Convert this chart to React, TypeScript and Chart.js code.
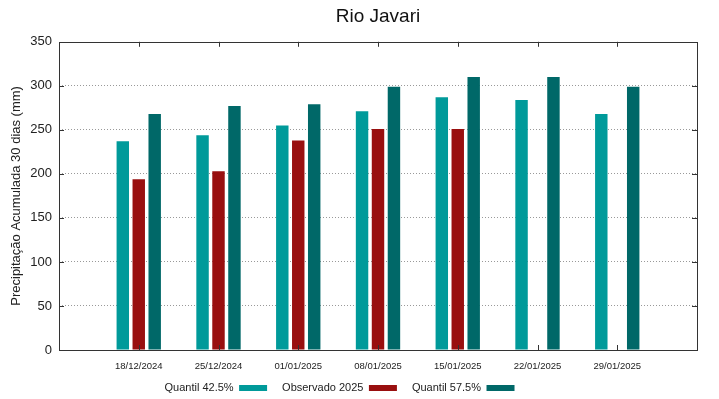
import React, { useEffect, useRef } from "react";
import { Chart, registerables } from "chart.js";

Chart.register(...registerables);

const dates = ["18/12/2024", "25/12/2024", "01/01/2025", "08/01/2025", "15/01/2025", "22/01/2025", "29/01/2025"];
const quantil425 = [237, 244, 255, 271, 287, 284, 268];
const observado2025 = [194, 203, 238, 251, 251, null, null];
const quantil575 = [268, 277, 279, 299, 310, 310, 299];
const yTicks = [0, 50, 100, 150, 200, 250, 300, 350];

const framePlugin = {
  id: "frame",
  afterLayout(chart: any) {
    if (chart.legend) {
      chart.legend.left -= 9;
      chart.legend.right -= 9;
    }
    if (chart.scales.x) chart.scales.x.bottom += 12;
  },
  afterDraw(chart: any) {
    const { ctx, chartArea } = chart;
    const xs = chart.scales.x;
    const ys = chart.scales.y;
    ctx.save();
    ctx.strokeStyle = "#333333";
    ctx.lineWidth = 1;
    ctx.strokeRect(Math.round(chartArea.left) + 0.5, Math.round(chartArea.top) + 0.5,
      Math.round(chartArea.right - chartArea.left), Math.round(chartArea.bottom - chartArea.top));
    ctx.beginPath();
    for (let i = 1; i <= dates.length; i++) {
      const x = Math.round(xs.getPixelForValue(i)) + 0.5;
      ctx.moveTo(x, chartArea.top);
      ctx.lineTo(x, chartArea.top + 5);
      ctx.moveTo(x, chartArea.bottom);
      ctx.lineTo(x, chartArea.bottom - 5);
    }
    for (const v of yTicks) {
      const y = Math.round(ys.getPixelForValue(v)) + 0.5;
      ctx.moveTo(chartArea.left, y);
      ctx.lineTo(chartArea.left + 5, y);
      ctx.moveTo(chartArea.right, y);
      ctx.lineTo(chartArea.right - 5, y);
    }
    ctx.stroke();
    ctx.restore();
  },
};

export default function App() {
  const ref = useRef<HTMLCanvasElement>(null);
  useEffect(() => {
    document.body.style.margin = "0";
    const labels = ["", ...dates, ""];
    const pad = (a: (number | null)[]) => [null, ...a, null];
    const chart = new Chart(ref.current!, {
      type: "bar",
      data: {
        labels,
        datasets: [
          { label: "Quantil 42.5%", data: pad(quantil425), backgroundColor: "#009a9a" },
          { label: "Observado 2025", data: pad(observado2025), backgroundColor: "#990f0f" },
          { label: "Quantil 57.5%", data: pad(quantil575), backgroundColor: "#006868" },
        ],
      },
      plugins: [framePlugin],
      options: {
        animation: false,
        responsive: false,
        layout: { padding: { left: 0, right: 22, top: 0, bottom: -4.5 } },
        datasets: { bar: { categoryPercentage: 0.6, barPercentage: 0.78 } },
        scales: {
          x: {
            offset: false,
            grid: { display: false, drawTicks: false },
            border: { display: false },
            ticks: {
              autoSkip: false,
              maxRotation: 0,
              padding: 11,
              color: "#222",
              font: { family: "Liberation Sans", size: 9.5 },
            },
            afterFit: (s: any) => { s.height = 17.5; },
          },
          y: {
            min: 0,
            max: 350,
            grid: {
              drawTicks: false,
              color: (c: any) => (c.tick.value === 0 || c.tick.value === 350 ? "rgba(0,0,0,0)" : "#999"),
              lineWidth: 1,
            },
            border: { display: false, dash: [1, 2] },
            ticks: {
              stepSize: 50,
              padding: 7,
              color: "#222",
              font: { family: "Liberation Sans", size: 13 },
            },
            title: {
              display: true,
              text: "Precipitação Acumulada 30 dias (mm)",
              color: "#222",
              font: { family: "Liberation Sans", size: 13 },
              padding: { top: 9, bottom: 2 },
            },
            afterFit: (s: any) => { s.width = 59; },
          },
        },
        plugins: {
          title: {
            display: true,
            text: "Rio Javari",
            fullSize: false,
            color: "#111",
            font: { family: "Liberation Sans", size: 19, weight: "normal" },
            padding: { top: 5, bottom: 14 },
          },
          legend: {
            position: "bottom",
            rtl: true,
            reverse: true,
            labels: {
              boxWidth: 28,
              boxHeight: 6,
              padding: 15,
              color: "#222",
              font: { family: "Liberation Sans", size: 11 },
            },
          },
          tooltip: { enabled: false },
        },
      },
    } as any);
    return () => chart.destroy();
  }, []);
  return (
    <div style={{ width: 719, height: 399 }}>
      <canvas ref={ref} width={719} height={399} style={{ display: "block" }} />
    </div>
  );
}
